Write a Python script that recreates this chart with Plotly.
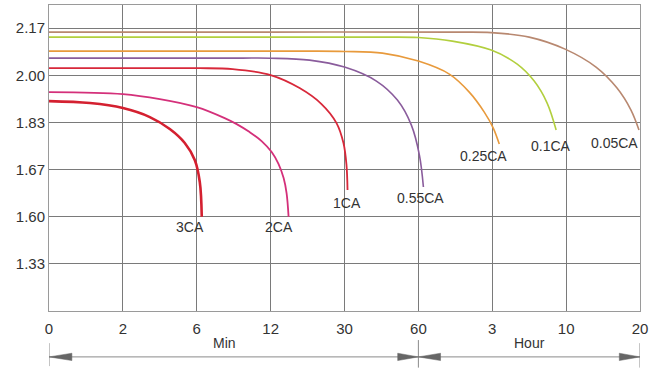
import plotly.graph_objects as go

# Axis tick labels (equally spaced grid positions)
x_tick_labels = ["0", "2", "6", "12", "30", "60", "3", "10", "20"]
y_tick_labels = ["", "1.33", "1.60", "1.67", "1.83", "2.00", "2.17"]

# Curves, in grid-position units (x: tick index, y: tick index)
series_names = ["3CA", "2CA", "1CA", "0.55CA", "0.25CA", "0.1CA", "0.05CA"]

x_3ca = [0, 0.554, 1.0, 1.365, 1.635, 1.838, 1.973, 2.041, 2.068]
y_3ca = [4.452, 4.410, 4.304, 4.113, 3.859, 3.562, 3.201, 2.735, 2.0]

x_2ca = [0, 1.0, 1.5, 2.0, 2.378, 2.541, 2.716, 2.878, 3.014, 3.108, 3.176, 3.216, 3.243]
y_2ca = [4.643, 4.600, 4.494, 4.325, 4.092, 3.964, 3.795, 3.604, 3.371, 3.116, 2.819, 2.501, 2.0]

x_1ca = [0, 1.0, 1.7, 2.041, 2.486, 3.0, 3.392, 3.689, 3.892, 3.986, 4.027, 4.041]
y_1ca = [5.152, 5.152, 5.152, 5.150, 5.131, 5.003, 4.728, 4.389, 3.986, 3.562, 3.095, 2.565]

x_055ca = [0, 1.5, 2.6, 3.0, 3.527, 4.0, 4.432, 4.716, 4.905, 5.014, 5.068]
y_055ca = [5.364, 5.364, 5.364, 5.362, 5.321, 5.173, 4.876, 4.473, 3.943, 3.307, 2.629]

x_025ca = [0, 2.0, 3.5, 4.0, 4.514, 5.0, 5.419, 5.689, 5.892, 6.014, 6.095]
y_025ca = [5.512, 5.512, 5.512, 5.505, 5.470, 5.300, 5.024, 4.643, 4.219, 3.880, 3.540]

x_01ca = [0, 2.5, 4.5, 5.0, 5.459, 5.986, 6.338, 6.568, 6.743, 6.865]
y_01ca = [5.809, 5.809, 5.809, 5.800, 5.724, 5.533, 5.236, 4.876, 4.410, 3.837]

x_005ca = [0, 3.0, 5.5, 5.986, 6.5, 6.986, 7.405, 7.689, 7.878, 7.986]
y_005ca = [5.915, 5.915, 5.915, 5.905, 5.809, 5.554, 5.173, 4.728, 4.261, 3.837]

label_x = [1.91, 3.12, 4.03, 5.03, 5.88, 6.80, 7.66]
label_y = [1.78, 1.78, 2.29, 2.40, 3.29, 3.50, 3.56]

colors = ["#d42030", "#d4307a", "#d8283a", "#8a5c9c", "#e89a3c", "#b2cf3e", "#b88870"]
widths = [2.6, 1.8, 1.8, 1.6, 1.6, 1.6, 1.6]

xs = [x_3ca, x_2ca, x_1ca, x_055ca, x_025ca, x_01ca, x_005ca]
ys = [y_3ca, y_2ca, y_1ca, y_055ca, y_025ca, y_01ca, y_005ca]

fig = go.Figure()
for name, x, y, c, w in zip(series_names, xs, ys, colors, widths):
    fig.add_trace(go.Scatter(x=x, y=y, mode="lines", name=name,
                             line=dict(color=c, width=w, shape="spline", smoothing=1.0),
                             showlegend=False, hoverinfo="skip"))

font_family = "Liberation Sans, Arial, sans-serif"
annotations = []
for name, lx, ly in zip(series_names, label_x, label_y):
    annotations.append(dict(x=lx, y=ly, xref="x", yref="y", text=name, showarrow=False,
                            font=dict(family=font_family, size=14, color="#333333")))

annotations.append(dict(x=2.38, y=-0.105, xref="x", yref="paper", text="Min", showarrow=False,
                        font=dict(family=font_family, size=14, color="#333333"), yanchor="middle"))
annotations.append(dict(x=6.5, y=-0.105, xref="x", yref="paper", text="Hour", showarrow=False,
                        font=dict(family=font_family, size=14, color="#333333"), yanchor="middle"))

arrow_y = -0.150
hh = 0.012
shapes = [
    dict(type="line", xref="x", yref="paper", x0=0, x1=8, y0=arrow_y, y1=arrow_y,
         line=dict(color="#8a8a8a", width=1)),
    dict(type="line", xref="x", yref="paper", x0=0, x1=0, y0=-0.105, y1=-0.18,
         line=dict(color="#8a8a8a", width=1)),
    dict(type="line", xref="x", yref="paper", x0=5, x1=5, y0=-0.095, y1=-0.185,
         line=dict(color="#8a8a8a", width=1)),
    dict(type="line", xref="x", yref="paper", x0=8, x1=8, y0=-0.105, y1=-0.185,
         line=dict(color="#8a8a8a", width=1)),
]
tri = [(0.0, 0.31), (5.0, 4.72), (5.0, 5.30), (8.0, 7.72)]
for tip, base in tri:
    shapes.append(dict(type="path", xref="x", yref="paper",
                       path=f"M {tip} {arrow_y} L {base} {arrow_y + hh} L {base} {arrow_y - hh} Z",
                       fillcolor="#666666", line=dict(color="#666666", width=0.5)))

fig.update_layout(
    width=658, height=370,
    margin=dict(l=49, r=18, t=5, b=59),
    paper_bgcolor="white", plot_bgcolor="white",
    xaxis=dict(range=[0, 8], tickmode="array", tickvals=list(range(len(x_tick_labels))),
               ticktext=x_tick_labels, showgrid=True, gridcolor="#7a7a7a", gridwidth=1,
               zeroline=False, showline=True, linecolor="#9a9a9a", mirror=True,
               automargin=False, ticks="", ticklabelstandoff=4,
               tickfont=dict(family=font_family, size=15, color="#333333")),
    yaxis=dict(range=[0, 6.49], tickmode="array", tickvals=list(range(len(y_tick_labels))),
               ticktext=y_tick_labels, showgrid=True, gridcolor="#7a7a7a", gridwidth=1,
               zeroline=False, showline=True, linecolor="#9a9a9a", mirror=True,
               automargin=False, ticks="",
               tickfont=dict(family=font_family, size=15, color="#333333")),
    annotations=annotations, shapes=shapes,
)

fig.write_html("out.html", config={"displayModeBar": False},
               post_script="document.body.style.margin='0';document.body.style.overflow='hidden';")
